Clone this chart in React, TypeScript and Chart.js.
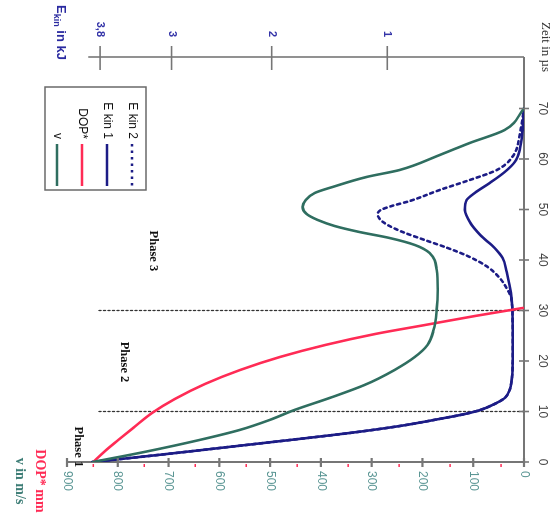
import React, { useEffect, useRef } from 'react';
import { Chart, LinearScale, registerables } from 'chart.js';

Chart.register(...registerables);

// ---- Data ----
const timeTicks = [0, 10, 20, 30, 40, 50, 60, 70];
const vTicks = [0, 100, 200, 300, 400, 500, 600, 700, 800, 900];
const dopTicks = [0, 1, 2, 3, 4, 5, 6, 7, 8];
const ekinTicks = [1, 2, 3, 3.8];

const vTime = [0, 2.08, 4.36, 6.34, 8.32, 10.3, 12.67, 15.25, 18.22, 20.79, 23.17, 26.14, 30.1, 34.06, 38.02, 41.39, 42.97, 44.36, 45.54, 46.73, 47.92, 49.11, 50.5, 51.88, 53.27, 54.46, 56.44, 57.82, 60.79, 63.17, 65.74, 70];
const vValues = [849, 743, 639, 560, 501, 452, 383, 314, 255, 215, 190, 178, 172, 170, 172, 186, 215, 265, 324, 373, 406, 428, 436, 430, 412, 377, 310, 245, 166, 107, 38, 0];

const dopTime = [0, 2.18, 4.36, 6.73, 9.7, 12.48, 15.45, 18.22, 20.79, 23.17, 25.35, 27.13, 28.91, 30.5];
const dopValues = [0, 0.23, 0.49, 0.78, 1.15, 1.6, 2.19, 2.88, 3.66, 4.55, 5.53, 6.51, 7.49, 8.43];

const ekin1Time = [0, 1.42, 2.89, 4.36, 5.74, 7.13, 8.51, 9.5, 10.3, 11.49, 12.67, 14.26, 16.24, 20.2, 26.14, 32.08, 35.05, 37.62, 40.4, 42.38, 44.95, 47.52, 49.9, 51.88, 53.27, 55.25, 57.43, 59.41, 61.78, 65.74, 70];
const ekin1Values = [3.89, 3.13, 2.45, 1.83, 1.31, 0.9, 0.6, 0.41, 0.3, 0.2, 0.13, 0.097, 0.083, 0.076, 0.076, 0.083, 0.097, 0.117, 0.144, 0.2, 0.3, 0.375, 0.41, 0.397, 0.34, 0.234, 0.13, 0.062, 0.029, 0.009, 0];

const ekin2Time = [0, 1.42, 2.89, 4.36, 5.74, 7.13, 8.51, 9.5, 10.3, 11.49, 12.67, 14.26, 16.24, 20.2, 26.14, 32.08, 34.06, 36.44, 38.61, 40.59, 42.38, 43.96, 45.54, 46.93, 48.12, 49.11, 49.9, 50.69, 51.68, 53.86, 55.84, 57.62, 58.81, 61.19, 64.75, 70];
const ekin2Values = [3.89, 3.13, 2.45, 1.83, 1.31, 0.9, 0.6, 0.41, 0.3, 0.2, 0.13, 0.097, 0.083, 0.076, 0.076, 0.083, 0.11, 0.165, 0.248, 0.375, 0.536, 0.708, 0.878, 0.997, 1.061, 1.077, 1.052, 0.965, 0.823, 0.595, 0.375, 0.199, 0.13, 0.062, 0.029, 0];

const phaseLineTimes = [10, 30];
const phaseLineTop = 840; // v value where the dotted phase lines end
const phaseLabels = ['Phase 1', 'Phase 2', 'Phase 3'];
const phaseLabelTime = [3.0, 19.8, 41.8];
const phaseLabelV = [878, 788, 731];

const legendNames = ['E kin 2', 'E kin 1', 'DOP*', 'v'];

const EKIN_MAX = 4.197;
const EKIN_AXIS_END = 3.94;

// ---- colours ----
const C_V = '#2f6e60';
const C_DOP = '#ff2b55';
const C_E = '#1c1c86';
const C_AXIS = '#767676';

// ---- non-linear E-kin scale ----
const EKIN_CURVE = 5;
const ekinF = (v: number) => Math.log(1 + v / EKIN_CURVE);

class EkinScale extends LinearScale {
  static id = 'ekin';
  static defaults = LinearScale.defaults;
  getPixelForValue(value: any) {
    if (value === null || value === undefined || Number.isNaN(value)) return NaN;
    const f0 = ekinF(this.min), f1 = ekinF(this.max);
    return this.getPixelForDecimal((ekinF(value) - f0) / (f1 - f0));
  }
  getValueForPixel(pixel: number) {
    const f0 = ekinF(this.min), f1 = ekinF(this.max);
    const d = this.getDecimalForPixel(pixel);
    return EKIN_CURVE * (Math.exp(f0 + d * (f1 - f0)) - 1);
  }
}
Chart.register(EkinScale as any);

const pts = (t: number[], v: number[]) => t.map((x, i) => ({ x, y: v[i] }));

function seg(ctx: CanvasRenderingContext2D, x1: number, y1: number, x2: number, y2: number) {
  ctx.beginPath();
  ctx.moveTo(x1, y1);
  ctx.lineTo(x2, y2);
  ctx.stroke();
}

function txt(ctx: CanvasRenderingContext2D, s: string, x: number, y: number, font: string, color: string, align: CanvasTextAlign = 'left') {
  ctx.font = font;
  ctx.fillStyle = color;
  ctx.textAlign = align;
  ctx.textBaseline = 'middle';
  ctx.fillText(s, x, y);
}

const decor = {
  id: 'decor',
  afterDraw(chart: any) {
    const { ctx, chartArea: ca, scales } = chart;
    const sx = scales.x, sv = scales.v, sd = scales.dop, se = scales.ekin;
    ctx.save();
    ctx.lineCap = 'butt';
    // E-kin axis line + ticks
    const ex = ca.left - 1;
    ctx.strokeStyle = C_AXIS;
    ctx.lineWidth = 1.6;
    seg(ctx, ex, se.getPixelForValue(0), ex, se.getPixelForValue(EKIN_AXIS_END));
    se.ticks.forEach((t: any) => {
      const y = se.getPixelForValue(t.value);
      seg(ctx, ex - 11, y, ex + 13, y);
    });
    // time ticks
    sx.ticks.forEach((t: any) => {
      const x = sx.getPixelForValue(t.value);
      seg(ctx, x, ca.top - 5, x, ca.top + 5);
    });
    // v ticks
    ctx.lineWidth = 2.2;
    sv.ticks.forEach((t: any) => {
      const y = sv.getPixelForValue(t.value);
      seg(ctx, ca.right - 4, y, ca.right + 5, y);
    });
    // DOP ticks
    ctx.strokeStyle = C_DOP;
    ctx.lineWidth = 1.5;
    sd.ticks.forEach((t: any) => {
      const y = sd.getPixelForValue(t.value);
      seg(ctx, ca.right + 2, y, ca.right + 5, y);
    });

    // axis titles
    txt(ctx, 'Zeit in µs', 22, 8, '13px "Liberation Serif"', '#333', 'left');
    // E_kin in kJ
    const eCol = '#2a2aa0';
    ctx.font = 'bold 13px "Liberation Sans"';
    const ew = ctx.measureText('E').width;
    txt(ctx, 'E', 5, 492, 'bold 13px "Liberation Sans"', eCol, 'left');
    txt(ctx, 'kin', 5 + ew, 497, 'bold 9px "Liberation Sans"', eCol, 'left');
    ctx.font = 'bold 9px "Liberation Sans"';
    const kw = ctx.measureText('kin').width;
    txt(ctx, ' in kJ', 5 + ew + kw, 492, 'bold 13px "Liberation Sans"', eCol, 'left');
    txt(ctx, 'v in m/s', 481, 533, 'bold 14px "Liberation Serif"', '#3d7d76', 'center');
    txt(ctx, 'DOP* mm', 481, 513, 'bold 14px "Liberation Serif"', C_DOP, 'center');

    // phase labels
    phaseLabels.forEach((p, i) => {
      txt(ctx, p, sx.getPixelForValue(phaseLabelTime[i]), sv.getPixelForValue(phaseLabelV[i]), 'bold 12.5px "Liberation Serif"', '#111', 'center');
    });

    // legend
    ctx.strokeStyle = '#6a6a6a';
    ctx.lineWidth = 1.5;
    ctx.strokeRect(87, 407, 103, 101);
    const colors = [C_E, C_E, C_DOP, C_V];
    legendNames.forEach((n, i) => {
      const y = 421 + i * 25;
      txt(ctx, n, 139, y, '12px "Liberation Sans"', '#111', 'right');
      ctx.strokeStyle = colors[i];
      ctx.lineWidth = 2.5;
      ctx.setLineDash(i === 0 ? [2.5, 4] : []);
      seg(ctx, 144, y, 186, y);
      ctx.setLineDash([]);
    });
    ctx.restore();
  },
};

const tickFont = { family: '"Liberation Sans"', size: 11 };

export default function App() {
  const ref = useRef<HTMLCanvasElement>(null);
  useEffect(() => {
    const datasets: any[] = [
      { label: 'v', data: pts(vTime, vValues), yAxisID: 'v', borderColor: C_V, borderWidth: 2.6 },
      { label: 'DOP*', data: pts(dopTime, dopValues), yAxisID: 'dop', borderColor: C_DOP, borderWidth: 2.6 },
      { label: 'E kin 1', data: pts(ekin1Time, ekin1Values), yAxisID: 'ekin', borderColor: C_E, borderWidth: 2.6 },
      { label: 'E kin 2', data: pts(ekin2Time, ekin2Values), yAxisID: 'ekin', borderColor: C_E, borderWidth: 2.6, borderDash: [3, 4] },
      ...phaseLineTimes.map((t) => ({
        label: 'phase ' + t,
        data: [{ x: t, y: 0 }, { x: t, y: phaseLineTop }],
        yAxisID: 'v',
        borderColor: '#333',
        borderWidth: 1.3,
        borderDash: [2, 2.5],
        cubicInterpolationMode: 'default',
        tension: 0,
      })),
    ];
    const chart = new Chart(ref.current as HTMLCanvasElement, {
      type: 'line',
      data: { datasets },
      plugins: [decor],
      options: {
        responsive: false,
        animation: false,
        devicePixelRatio: 1,
        layout: { padding: { left: 0, right: 0, top: 0, bottom: 67 } },
        plugins: { legend: { display: false }, tooltip: { enabled: false } },
        elements: {
          point: { radius: 0, hoverRadius: 0 },
          line: { cubicInterpolationMode: 'monotone', fill: false, borderCapStyle: 'round' },
        },
        scales: {
          x: {
            type: 'linear',
            position: 'top',
            reverse: true,
            min: 0,
            max: 80,
            afterBuildTicks: (s: any) => { s.ticks = timeTicks.map((value) => ({ value })); },
            afterFit: (s: any) => { s.height = 29; },
            grid: { display: true, drawOnChartArea: false, drawTicks: false },
            border: { display: true, color: C_AXIS, width: 2 },
            ticks: { padding: 11, color: '#444', font: { family: '"Liberation Sans"', size: 12 }, maxRotation: 0, minRotation: 0, autoSkip: false },
          },
          ekin: {
            type: 'ekin',
            position: 'left',
            reverse: true,
            min: 0,
            max: EKIN_MAX,
            afterBuildTicks: (s: any) => { s.ticks = ekinTicks.map((value) => ({ value })); },
            afterFit: (s: any) => { s.width = 58; },
            grid: { display: true, drawOnChartArea: false, drawTicks: false },
            border: { display: false },
            ticks: {
              padding: 21, color: '#3434a8', font: { family: '"Liberation Sans"', size: 11, weight: 'bold' }, autoSkip: false,
              callback: (v: any) => String(v).replace('.', ','),
            },
          },
          dop: {
            type: 'linear',
            position: 'right',
            weight: 0,
            min: -0.516,
            max: 8.45,
            afterBuildTicks: (s: any) => { s.ticks = dopTicks.map((value) => ({ value })); },
            afterFit: (s: any) => { s.width = 0; },
            grid: { display: true, drawOnChartArea: false, drawTicks: false },
            border: { display: false },
            ticks: { padding: 8, color: '#ff3a5c', font: tickFont, autoSkip: false },
          },
          v: {
            type: 'linear',
            position: 'right',
            weight: 1,
            reverse: true,
            min: 0,
            max: 900,
            afterBuildTicks: (s: any) => { s.ticks = vTicks.map((value) => ({ value })); },
            afterFit: (s: any) => { s.width = 66; },
            grid: { display: true, drawOnChartArea: false, drawTicks: false },
            border: { display: true, color: C_AXIS, width: 2 },
            ticks: { padding: 9, color: '#5b9694', font: { family: '"Liberation Sans"', size: 12 }, autoSkip: false },
          },
        },
      } as any,
    });
    return () => chart.destroy();
  }, []);
  return (
    <div
      style={{
        position: 'fixed',
        left: 0,
        top: 0,
        width: 528,
        height: 553,
        transformOrigin: '0 0',
        transform: 'translate(553px, 0) rotate(90deg)',
        background: '#fff',
      }}
    >
      <canvas ref={ref} width={528} height={553} style={{ display: 'block' }} />
    </div>
  );
}
